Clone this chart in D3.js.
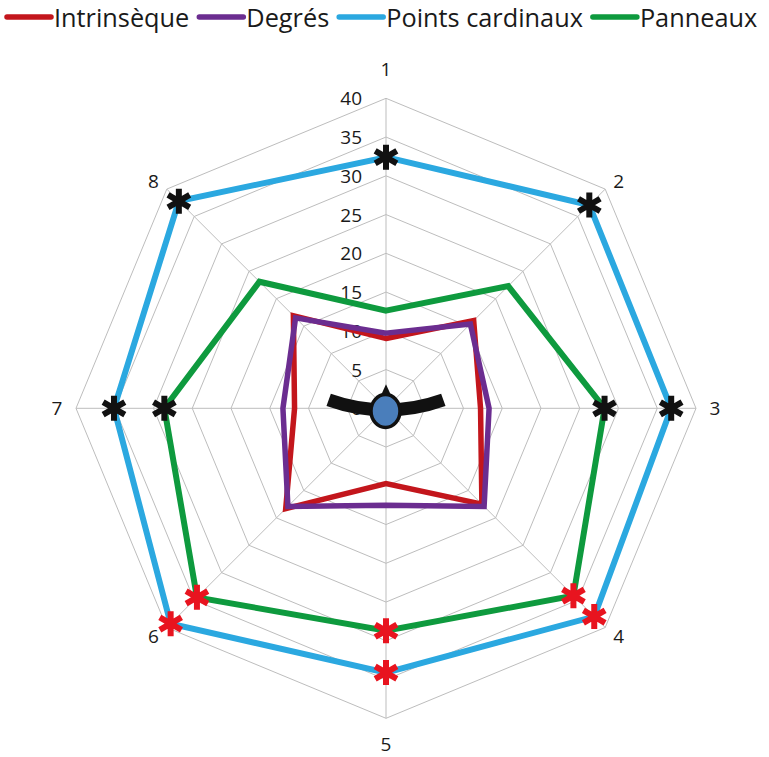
<!DOCTYPE html>
<html>
<head>
<meta charset="utf-8">
<script src="https://cdn.jsdelivr.net/npm/d3@7/dist/d3.min.js"></script>
<style>
html,body{margin:0;padding:0;background:#fff;}
svg{display:block;}
text{font-family:"Open Sans",sans-serif;fill:#1a1a1a;}
</style>
</head>
<body>
<svg id="chart" width="769" height="757"></svg>
<script>
// ---- data ----
const axisLabels = ["1","2","3","4","5","6","7","8"];
const tickValues = [0,5,10,15,20,25,30,35,40];
const seriesNames = ["Intrinsèque","Degrés","Points cardinaux","Panneaux"];
const intrinseque = [9.0, 16.0, 12.2, 17.5, 9.7, 18.3, 11.8, 16.9];
const degres = [9.7, 15.4, 13.3, 17.9, 12.5, 17.9, 13.3, 16.5];
const pointsCardinaux = [32.4, 37.1, 36.8, 38.0, 34.1, 39.3, 35.1, 37.8];
const panneaux = [12.6, 22.3, 28.2, 34.2, 28.7, 34.5, 28.6, 23.1];
const seriesColors = ["#c3161c","#6b2d90","#2ba8e0","#0e9a3e"];
// significance markers: axis indices per series
const blackStarAxes = {"Points cardinaux":[0,1,2,6,7], "Panneaux":[2,6]};
const redStarAxes = {"Points cardinaux":[3,4,5], "Panneaux":[3,4,5]};

const seriesValues = [intrinseque, degres, pointsCardinaux, panneaux];

// ---- layout ----
const svg = d3.select("#chart");
const cx = 386, cy = 408.3, R = 310;
const n = axisLabels.length;
const r = d3.scaleLinear().domain([0,40]).range([0,R]);
const ang = i => i * 2 * Math.PI / n;
const px = (i,v) => cx + r(v) * Math.sin(ang(i));
const py = (i,v) => cy - r(v) * Math.cos(ang(i));

const g = svg.append("g");

// grid rings
const ringLine = d3.lineRadial().angle((d,i)=>ang(i)).radius(d=>r(d)).curve(d3.curveLinearClosed);
g.selectAll("path.ring").data(tickValues.filter(t=>t>0)).enter().append("path")
  .attr("class","ring")
  .attr("transform",`translate(${cx},${cy})`)
  .attr("d", t => ringLine(axisLabels.map(()=>t)))
  .attr("fill","none").attr("stroke","#bdbdbd").attr("stroke-width",1);

// spokes
g.selectAll("line.spoke").data(axisLabels).enter().append("line")
  .attr("x1",cx).attr("y1",cy)
  .attr("x2",(d,i)=>px(i,40)).attr("y2",(d,i)=>py(i,40))
  .attr("stroke","#bdbdbd").attr("stroke-width",1);

// tick labels
g.selectAll("text.tick").data(tickValues).enter().append("text")
  .attr("x", cx - 24).attr("y", d => cy - r(d))
  .attr("text-anchor","end").attr("dominant-baseline","central")
  .attr("font-size",19).text(d=>d);

// axis labels
g.selectAll("text.axl").data(axisLabels).enter().append("text")
  .attr("x",(d,i)=>px(i,40) + 19*Math.sin(ang(i)))
  .attr("y",(d,i)=>{const c=Math.cos(ang(i)); return py(i,40) - c*(c>0.9?29:(c<-0.9?26:12));})
  .attr("text-anchor","middle").attr("dominant-baseline","central")
  .attr("font-size",19).text(d=>d);

// series lines
const serLine = d3.lineRadial().angle((d,i)=>ang(i)).radius(d=>r(d)).curve(d3.curveLinearClosed);
seriesValues.forEach((vals,k)=>{
  g.append("path")
    .attr("transform",`translate(${cx},${cy})`)
    .attr("d", serLine(vals))
    .attr("fill","none").attr("stroke",seriesColors[k])
    .attr("stroke-width", k>=2 ? 6 : 5.5)
    .attr("stroke-linejoin","miter");
});

// asterisk markers
function star(x,y,color){
  const L = 12.5;
  const angs = [90,30,-30];
  const d = angs.map(a=>{
    const rad=a*Math.PI/180, dx=L*Math.cos(rad), dy=L*Math.sin(rad);
    return `M${x-dx},${y-dy}L${x+dx},${y+dy}`;
  }).join("");
  g.append("path").attr("d",d).attr("stroke",color).attr("stroke-width",6).attr("fill","none");
}
[[blackStarAxes,"#111"],[redStarAxes,"#e8141f"]].forEach(([obj,color])=>{
  Object.keys(obj).forEach(name=>{
    const vals = seriesValues[seriesNames.indexOf(name)];
    obj[name].forEach(i=>star(px(i,vals[i]),py(i,vals[i]),color));
  });
});

// centre figure (listener seen from above)
g.append("path")
  .attr("transform",`translate(${cx},${cy-168})`)
  .attr("d", d3.arc().innerRadius(163).outerRadius(176).startAngle(Math.PI-0.345).endAngle(Math.PI+0.345)())
  .attr("fill","#111");
g.append("path")
  .attr("d",`M${cx-5},${cy-13}L${cx},${cy-24}L${cx+5},${cy-13}Z`)
  .attr("fill","#111");
g.append("ellipse").attr("cx",cx-0.5).attr("cy",cy+2.7).attr("rx",14.5).attr("ry",16.5)
  .attr("fill","#4a7ebb").attr("stroke","#111").attr("stroke-width",3.5);

// legend
const leg = svg.append("g");
let lx = 5;
seriesNames.forEach((name,k)=>{
  leg.append("line").attr("x1",lx+2).attr("x2",lx+46).attr("y1",17).attr("y2",17)
    .attr("stroke",seriesColors[k]).attr("stroke-width",5.5).attr("stroke-linecap","round");
  const t = leg.append("text").attr("x",lx+49).attr("y",17)
    .attr("dominant-baseline","central").attr("font-size",25.3).text(name);
  lx += 49 + t.node().getComputedTextLength() + 8;
});
</script>
</body>
</html>
